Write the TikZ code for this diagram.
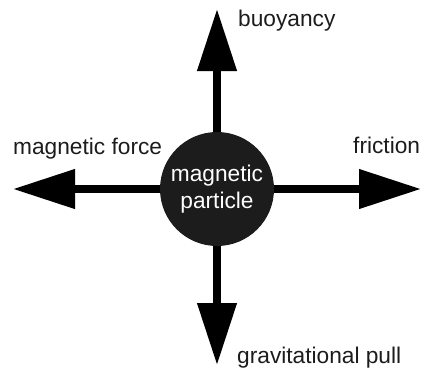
\documentclass[tikz,border=0pt]{standalone}
\usepackage{fontspec}
\setmainfont{Liberation Sans}
\usetikzlibrary{arrows.meta}
\definecolor{ink}{HTML}{1C1C1C}
\begin{document}
\begin{tikzpicture}[x=1pt,y=-1pt,
  force/.style={draw=black,line width=7.5pt,-{Triangle[length=62pt,width=38pt]}},
  lbl/.style={anchor=base west,inner sep=0pt,text=ink,font=\fontsize{22.7}{27}\selectfont}]
\useasboundingbox (0,0) rectangle (427,368);
\node[circle,fill=ink,minimum size=114pt,inner sep=0pt,text=white,align=center,
  font=\fontsize{22.7}{27}\selectfont] (c) at (217,189) {magnetic\\particle};
\coordinate (up) at (217,9);
\coordinate (down) at (217,365);
\coordinate (left) at (13,189);
\coordinate (right) at (421,189);
\draw[force] (c) -- (up);
\draw[force] (c) -- (down);
\draw[force] (c) -- (left);
\draw[force] (c) -- (right);
\node[lbl] (lb) at (238,26) {buoyancy};
\node[lbl] (lm) at (13,154) {magnetic force};
\node[lbl] (lf) at (353,153) {friction};
\node[lbl] (lg) at (237,363) {gravitational pull};
\end{tikzpicture}
\end{document}
